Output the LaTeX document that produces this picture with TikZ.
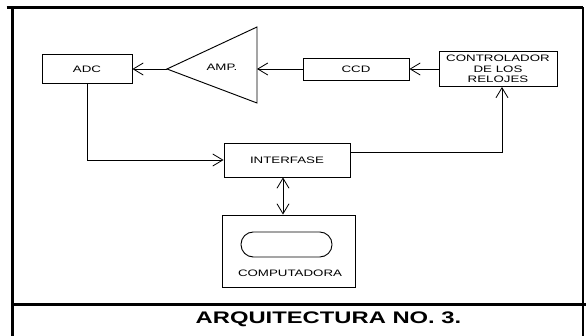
\documentclass[tikz,border=0pt]{standalone}
\usepackage{fontspec}
\setmainfont{Liberation Sans}[FakeStretch=1.42]
\usepackage{tikz}
\usetikzlibrary{arrows.meta,positioning,calc}

\begin{document}
\begin{tikzpicture}[
    blk/.style={draw, line width=0.8pt, align=center, inner sep=0pt,
                font=\fontsize{8}{8.8}\selectfont},
    arr/.style={line width=0.7pt, -{Straight Barb[length=0.3cm, width=0.36cm]}},
    darr/.style={line width=0.7pt, {Straight Barb[length=0.3cm, width=0.36cm]}-{Straight Barb[length=0.3cm, width=0.36cm]}},
    lbl/.style={font=\fontsize{8}{8.8}\selectfont},
]
    \useasboundingbox (0,0) rectangle (17.58,10.08);
    % marco
    \draw[line width=3.4pt] (0.375,-0.3) -- (0.375,9.855);
    \draw[line width=2.5pt] (0.2,9.855) -- (17.49,9.855);
    \draw[line width=1.7pt] (17.49,9.855) -- (17.49,-0.3);
    \draw[line width=3.4pt] (0.375,0.945) -- (17.7,0.945);
    \node[font=\bfseries\fontsize{14.3}{16}\selectfont] (titulo) at (9.855, 0.51)
        {ARQUITECTURA NO. 3.};

    \node[blk, minimum width=2.7cm, minimum height=0.87cm] (adc) at (2.61, 8.01) {ADC};
    \node[blk, minimum width=3.18cm, minimum height=0.66cm] (ccd) at (10.68, 8.01) {CCD};
    \node[blk, minimum width=3.54cm, minimum height=1.05cm] (reloj) at (14.94, 8.01)
        {CONTROLADOR\\DE LOS\\RELOJES};
    \node[blk, minimum width=3.78cm, minimum height=1.02cm] (interfase) at (8.61, 5.28) {INTERFASE};
    \node[blk, minimum width=3.99cm, minimum height=2.16cm] (comp) at (8.655, 2.55) {};
    \node[blk, minimum width=2.73cm, minimum height=0.75cm, rounded corners=0.37cm]
        (pantalla) at (8.595, 2.745) {};
    \node[lbl] (comptxt) at (8.7, 1.875) {COMPUTADORA};

    % amplificador
    \coordinate (ampout) at (5.01, 8.01);
    \coordinate (ampin) at (7.71, 8.01);
    \draw[line width=0.8pt] (ampout) -- (7.71, 9.27) -- (7.71, 6.99) -- cycle;
    \node[lbl] (amp) at (6.66, 8.07) {AMP.};

    \draw[arr] (reloj.west) -- (ccd.east);
    \draw[arr] (ccd.west) -- (ampin);
    \draw[arr] (ampout) -- (adc.east);
    \draw[arr] (adc.south) |- (interfase.west);
    \draw[arr] ([yshift=0.24cm]interfase.east) -| ([xshift=0.12cm]reloj.south);
    \draw[darr] ([xshift=-0.12cm]interfase.south)
        -- ([xshift=-0.12cm]interfase.south |- comp.north);
\end{tikzpicture}
\end{document}
